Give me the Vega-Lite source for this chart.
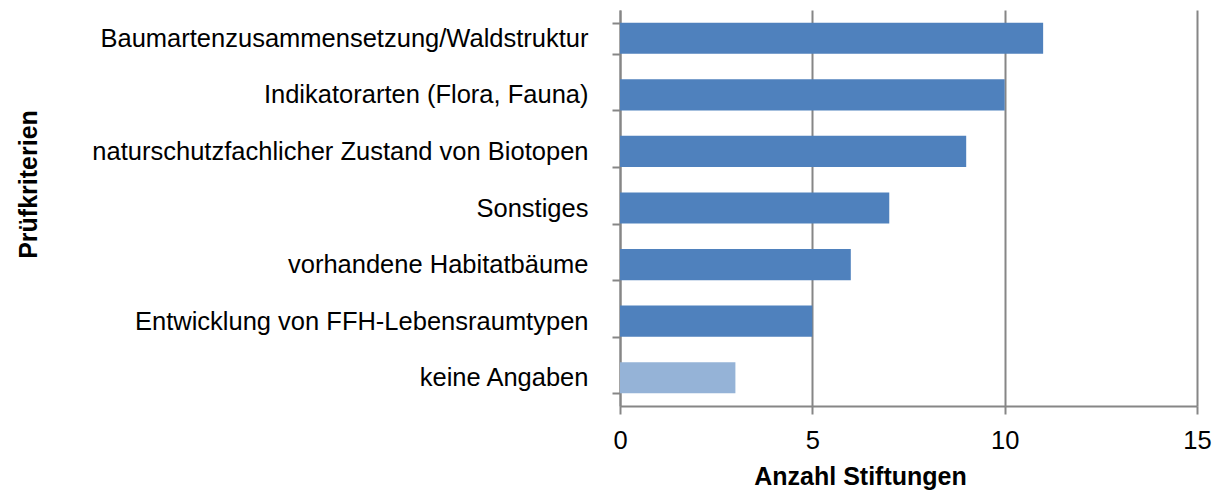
{
  "$schema": "https://vega.github.io/schema/vega-lite/v6.json",
  "autosize": "none",
  "width": 577,
  "height": 396,
  "padding": {"left": 620, "top": 10, "right": 21, "bottom": 85},
  "background": "white",
  "config": {"view": {"stroke": null}, "font": "Liberation Sans"},
  "data": {"values": [
    {"kriterium": "Baumartenzusammensetzung/Waldstruktur", "anzahl": 11, "gruppe": "a"},
    {"kriterium": "Indikatorarten (Flora, Fauna)", "anzahl": 10, "gruppe": "a"},
    {"kriterium": "naturschutzfachlicher Zustand von Biotopen", "anzahl": 9, "gruppe": "a"},
    {"kriterium": "Sonstiges", "anzahl": 7, "gruppe": "a"},
    {"kriterium": "vorhandene Habitatbäume", "anzahl": 6, "gruppe": "a"},
    {"kriterium": "Entwicklung von FFH-Lebensraumtypen", "anzahl": 5, "gruppe": "a"},
    {"kriterium": "keine Angaben", "anzahl": 3, "gruppe": "b"}
  ]},
  "mark": {"type": "bar"},
  "encoding": {
    "y": {
      "field": "kriterium", "type": "nominal", "sort": null,
      "scale": {"paddingInner": 0.45, "paddingOuter": 0.225},
      "axis": {
        "title": "Prüfkriterien", "titleFontSize": 25, "titleFontWeight": "bold", "titleColor": "#000000",
        "titleX": -592, "titleY": 174, "titleBaseline": "middle", "titleAngle": -90,
        "labelFontSize": 25.5, "labelColor": "#000000", "labelPadding": 24, "labelLimit": 0,
        "tickBand": "extent", "tickSize": 8, "tickColor": "#868686", "tickWidth": 2,
        "domainColor": "#868686", "domainWidth": 2, "grid": false
      }
    },
    "x": {
      "field": "anzahl", "type": "quantitative",
      "scale": {"domain": [0, 15], "nice": false},
      "axis": {
        "title": "Anzahl Stiftungen", "titleFontSize": 25, "titleFontWeight": "bold", "titleColor": "#000000",
        "titleX": 240, "titleY": 70, "titleBaseline": "middle",
        "values": [0, 5, 10, 15], "labelFontSize": 25.5, "labelColor": "#000000", "labelPadding": 14, "labelFlush": false,
        "tickSize": 8, "tickColor": "#868686", "tickWidth": 2,
        "domainColor": "#868686", "domainWidth": 2,
        "grid": true, "gridColor": "#868686", "gridWidth": 2
      }
    },
    "color": {
      "field": "gruppe", "type": "nominal",
      "scale": {"domain": ["a", "b"], "range": ["#4F81BD", "#95B3D7"]},
      "legend": null
    }
  }
}
